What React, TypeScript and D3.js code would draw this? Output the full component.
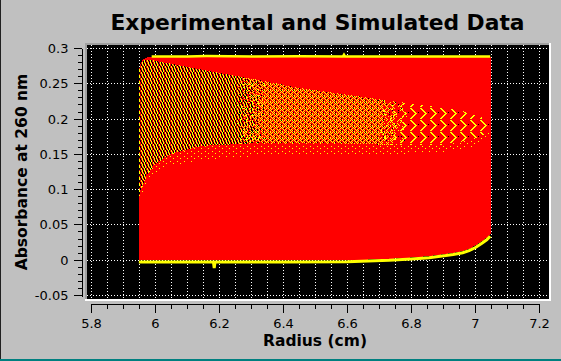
import React, { useMemo } from "react";
import * as d3 from "d3";

const W = 561;
const H = 361;

const titleText = "Experimental and Simulated Data";
const xAxisTitle = "Radius (cm)";
const yAxisTitle = "Absorbance at 260 nm";

const xTicksMajor = [5.8, 6, 6.2, 6.4, 6.6, 6.8, 7, 7.2];
const xTickLabels = ["5.8", "6", "6.2", "6.4", "6.6", "6.8", "7", "7.2"];
const yTicksMajor = [-0.05, 0, 0.05, 0.1, 0.15, 0.2, 0.25, 0.3];
const yTickLabels = ["-0.05", "0", "0.05", "0.1", "0.15", "0.2", "0.25", "0.3"];

// simulated (red) envelope: top edge from meniscus, bottom edge (last scan)
const envelopeTop: [number, number][] = [
  [5.948, 0.0], [5.948, 0.268], [5.952, 0.277], [5.958, 0.283], [5.968, 0.2865],
  [5.985, 0.2885], [7.048, 0.2885],
];
const envelopeBottom: [number, number][] = [
  [7.048, 0.038], [7.035, 0.032], [7.02, 0.027], [7.0, 0.021], [6.98, 0.016],
  [6.96, 0.013], [6.93, 0.0105], [6.907, 0.009], [6.855, 0.006], [6.8, 0.004],
  [6.73, 0.002], [6.6, 0.0], [6.3, 0.0], [5.948, 0.0],
];

// experimental first scan (yellow, top plateau)
const firstScan: [number, number][] = [
  [5.988, 0.2888], [6.1, 0.2888], [6.16, 0.2892], [6.3, 0.2888], [6.45, 0.289],
  [6.586, 0.2888], [6.589, 0.2912], [6.592, 0.2888], [6.8, 0.2888], [7.046, 0.2888],
];
// experimental last scan (yellow, baseline)
const lastScan: [number, number][] = [
  [5.948, -0.0024], [6.05, -0.0026], [6.181, -0.0024], [6.1835, -0.011], [6.186, -0.0026],
  [6.4, -0.0024], [6.6, -0.0021], [6.73, -0.0002], [6.8, 0.0018], [6.855, 0.0036],
  [6.907, 0.0066], [6.93, 0.0082], [6.96, 0.0106], [6.98, 0.0135], [7.0, 0.018],
  [7.02, 0.024], [7.035, 0.029], [7.046, 0.034],
];

// band of overlapping boundary scans
const bandUpper: [number, number][] = [
  [5.948, 0.272], [5.955, 0.279], [5.965, 0.283], [5.983, 0.284], [6.077, 0.276],
  [6.202, 0.265], [6.327, 0.255], [6.452, 0.244], [6.608, 0.234], [6.764, 0.224],
  [6.952, 0.2125], [7.03, 0.201], [7.048, 0.191],
];
const coreLower: [number, number][] = [
  [5.948, 0.088], [5.958, 0.105], [5.975, 0.122], [5.998, 0.136], [6.045, 0.15],
  [6.139, 0.162], [6.327, 0.166], [6.545, 0.166], [6.764, 0.163], [6.889, 0.163],
  [6.983, 0.17], [7.03, 0.178], [7.048, 0.185],
];
const fringeLower: [number, number][] = [
  [5.948, 0.082], [5.958, 0.095], [5.975, 0.11], [5.998, 0.12], [6.045, 0.133],
  [6.139, 0.142], [6.327, 0.148], [6.545, 0.15], [6.764, 0.151], [6.889, 0.152],
  [6.983, 0.16], [7.03, 0.17], [7.048, 0.18],
];
// radius limits of the texture zones (dense | medium | sparse)
const zoneBreaks = [6.3, 6.74];

const densePattern = ["YKRYKR", "YKRYRK", "YRKRYK", "RYKRYK", "KYRKYR", "KYRKRY"];
const mediumPattern = ["YRYRYK", "RYRRRY", "YRKRYR", "RYRYRR", "RRYRYK", "YRRYRR"];
const sparsePattern = [
  "YYRRRRRRRR",
  "RYYRRRRRRR",
  "RRYYRRRRRR",
  "RRRYYRRRRR",
  "RRRRYYRRKR",
  "RRRRRYYRRR",
  "RRRRYYRRRR",
  "RRRYYRRRRR",
  "RRYYRRRRRR",
  "RYYRRRRRRR",
  "YYRRRRRRRR",
  "RRRRRRRRRR",
];
const fringePattern = ["RRRRRRR", "RRYRRRR", "RRRRRRR", "RRRRRYR", "RRRRRRR"];

const x = d3.scaleLinear().domain([5.8, 7.2]).range([91.5, 539.5]);
const y = d3.scaleLinear().domain([-0.05, 0.3]).range([295.5, 48.5]);
const py = (v: number) => Math.floor(y(v)) + 0.5;

const line = d3
  .line<[number, number]>()
  .x((d) => x(d[0]))
  .y((d) => y(d[1]));

function toPixels(a: [number, number][], b: [number, number][]): [number, number][] {
  return a.concat(b.slice().reverse()).map((d) => [x(d[0]), y(d[1])] as [number, number]);
}

// deterministic per-pixel hash in [0,1) used only to soften texture zone edges
function hash(i: number, j: number) {
  let h = Math.imul(i, 374761393) + Math.imul(j, 668265263);
  h = Math.imul(h ^ (h >>> 13), 1274126177);
  h ^= h >>> 16;
  return (h >>> 0) / 4294967296;
}

function buildTexture() {
  const core = toPixels(bandUpper, coreLower);
  const fringe = toPixels(coreLower, fringeLower);
  const x0 = Math.floor(x(5.94));
  const x1 = Math.ceil(x(7.05));
  const y0 = Math.floor(y(0.3));
  const y1 = Math.ceil(y(0.07));
  const b1 = x(zoneBreaks[0]);
  const b2 = x(zoneBreaks[1]);
  let yel = "";
  let blk = "";
  for (let px = x0; px <= x1; px++) {
    for (let pj = y0; pj <= y1; pj++) {
      const c: [number, number] = [px + 0.5, pj + 0.5];
      let tile: string[] | null = null;
      if (d3.polygonContains(core, c)) {
        const cx = c[0] + (hash(px, pj) - 0.5) * 30;
        tile = cx < b1 ? densePattern : cx < b2 ? mediumPattern : sparsePattern;
      } else if (d3.polygonContains(fringe, c)) {
        tile = fringePattern;
      }
      if (!tile) continue;
      const ch = tile[pj % tile.length][px % tile[0].length];
      if (ch === "Y") yel += `M${px} ${pj}h1v1h-1z`;
      else if (ch === "K") blk += `M${px} ${pj}h1v1h-1z`;
    }
  }
  return { yel, blk };
}

export default function App() {
  const xMinor = d3.range(0, 29).map((i) => 5.8 + i * 0.05);
  const yMinor = d3.range(0, 36).map((i) => -0.05 + i * 0.01);
  const font = "DejaVu Sans, sans-serif";
  const envelope = line(envelopeTop.concat(envelopeBottom)) + "Z";
  const tex = useMemo(buildTexture, []);

  return (
    <svg
      width={W}
      height={H}
      style={{ position: "absolute", left: 0, top: 0, display: "block" }}
      shapeRendering="crispEdges"
    >
      <defs>
        <clipPath id="canvas">
          <rect x={87} y={45} width={462} height={254} />
        </clipPath>
      </defs>

      <rect width={W} height={H} fill="#c0c0c0" />
      <rect x={0} y={0} width={1} height={359} fill="#202020" />
      <rect x={0} y={359} width={W} height={2} fill="#008080" />

      {/* canvas frame */}
      <rect x={85} y={43} width={466} height={258} fill="#ffffff" />
      <rect x={85} y={43} width={464} height={256} fill="#a0a0a0" />
      <rect x={87} y={45} width={462} height={254} fill="#000000" />

      <g clipPath="url(#canvas)">
        {xMinor.map((v, i) => (
          <line key={"gx" + i} x1={x(v)} x2={x(v)} y1={45} y2={299} stroke="#ffffff" strokeDasharray="1 2" />
        ))}
        {yTicksMajor.map((v, i) => (
          <line key={"gy" + i} x1={87} x2={549} y1={py(v)} y2={py(v)} stroke="#ffffff" strokeDasharray="1 2" />
        ))}

        <path d={envelope} fill="#ff0000" />
        <path d={tex.yel} fill="#ffff00" />
        <path d={tex.blk} fill="#000000" />

        <path d={line(firstScan) || ""} fill="none" stroke="#ffff00" strokeWidth={2.5} shapeRendering="auto" />
        <path d={line(lastScan) || ""} fill="none" stroke="#ffff00" strokeWidth={3} shapeRendering="auto" />
      </g>

      {/* y axis */}
      <line x1={82.5} x2={82.5} y1={py(0.3)} y2={py(-0.05) + 1} stroke="#000" />
      {yMinor.map((v, i) => (
        <line key={"ym" + i} x1={78} x2={82} y1={py(v)} y2={py(v)} stroke="#000" />
      ))}
      {yTicksMajor.map((v, i) => (
        <g key={"yt" + i}>
          <line x1={74} x2={82} y1={py(v)} y2={py(v)} stroke="#000" />
          <text x={68.5} y={py(v) + 4.7} textAnchor="end" fontFamily={font} fontSize={13} fill="#000">
            {yTickLabels[i]}
          </text>
        </g>
      ))}

      {/* x axis */}
      <line x1={x(5.8) - 0.5} x2={x(7.2) + 0.5} y1={304.5} y2={304.5} stroke="#000" />
      {xMinor.map((v, i) => (
        <line key={"xm" + i} x1={x(v)} x2={x(v)} y1={304} y2={308.5} stroke="#000" />
      ))}
      {xTicksMajor.map((v, i) => (
        <g key={"xt" + i}>
          <line x1={x(v)} x2={x(v)} y1={304} y2={312.5} stroke="#000" />
          <text x={x(v)} y={328} textAnchor="middle" fontFamily={font} fontSize={13} fill="#000">
            {xTickLabels[i]}
          </text>
        </g>
      ))}

      <text x={317.5} y={30} textAnchor="middle" fontFamily={font} fontWeight="bold" fontSize={21.8} fill="#000">
        {titleText}
      </text>
      <text x={315} y={345.5} textAnchor="middle" fontFamily={font} fontWeight="bold" fontSize={15.5} fill="#000">
        {xAxisTitle}
      </text>
      <text
        transform="translate(26.5,172) rotate(-90)"
        textAnchor="middle"
        fontFamily={font}
        fontWeight="bold"
        fontSize={15.5}
        fill="#000"
      >
        {yAxisTitle}
      </text>
    </svg>
  );
}
